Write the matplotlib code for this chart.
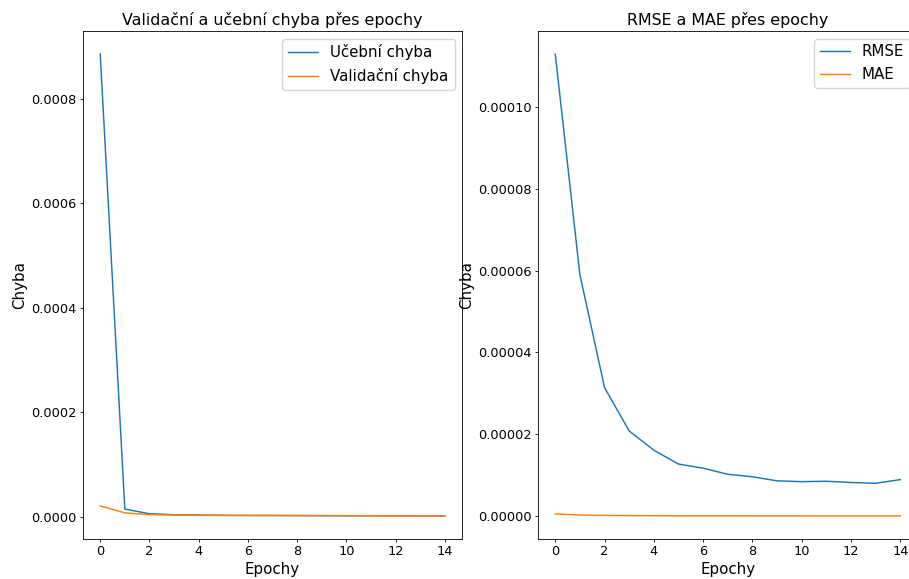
import matplotlib
matplotlib.use("Agg")
import matplotlib.pyplot as plt

epochs = list(range(15))
train_loss = [0.000886, 1.5e-5, 6e-6, 4.2e-6, 3.6e-6, 3.0e-6, 2.8e-6, 2.7e-6, 2.6e-6, 2.4e-6, 2.3e-6, 2.2e-6, 2.1e-6, 2.0e-6, 2.0e-6]
val_loss = [2.1e-5, 7.7e-6, 4.2e-6, 3.6e-6, 3.0e-6, 2.8e-6, 2.7e-6, 2.6e-6, 2.5e-6, 2.3e-6, 2.2e-6, 2.1e-6, 2.0e-6, 2.0e-6, 1.9e-6]
rmse = [1.129e-4, 5.9e-5, 3.14e-5, 2.08e-5, 1.61e-5, 1.27e-5, 1.17e-5, 1.02e-5, 9.6e-6, 8.6e-6, 8.4e-6, 8.5e-6, 8.2e-6, 8.0e-6, 8.9e-6]
mae = [5e-7, 2.5e-7, 1.5e-7, 1.0e-7, 8e-8, 6e-8, 5e-8, 5e-8, 4e-8, 4e-8, 4e-8, 3e-8, 3e-8, 3e-8, 3e-8]

W, H = 909, 579
plt.rcParams.update({
    "xtick.major.size": 2.3, "ytick.major.size": 2.3,
    "xtick.major.pad": 2.3, "ytick.major.pad": 2.3,
    "xtick.major.width": 0.6, "ytick.major.width": 0.6,
    "axes.labelpad": 2.6, "axes.titlepad": 4.0,
    "axes.linewidth": 0.6, "lines.linewidth": 1.05,
    "legend.fontsize": 10.8,
})
fig = plt.figure(figsize=(W/100, H/100), dpi=100)

def ax_at(x0, x1, y0, y1):
    return fig.add_axes([x0/W, (H-y1)/H, (x1-x0)/W, (y1-y0)/H])

tick_fs = 9.3
txt_fs = 10.8
title_fs = 11.4
ax1 = ax_at(83, 462, 31, 539)
ax1.plot(epochs, train_loss, label="Učební chyba")
ax1.plot(epochs, val_loss, label="Validační chyba")
ax1.set_title("Validační a učební chyba přes epochy", fontsize=title_fs)
ax1.set_xlabel("Epochy", fontsize=txt_fs)
ax1.set_ylabel("Chyba", fontsize=txt_fs)
ax1.legend(loc="upper right")
ax1.tick_params(labelsize=tick_fs)
ax1.set_xticks([0, 2, 4, 6, 8, 10, 12, 14])

ax2 = ax_at(538, 917.5, 31, 539)
ax2.plot(epochs, rmse, label="RMSE")
ax2.plot(epochs, mae, label="MAE")
ax2.set_title("RMSE a MAE přes epochy", fontsize=title_fs)
ax2.set_xlabel("Epochy", fontsize=txt_fs)
ax2.set_ylabel("Chyba", fontsize=txt_fs)
ax2.legend(loc="upper right")
ax2.tick_params(labelsize=tick_fs)
ax2.set_xticks([0, 2, 4, 6, 8, 10, 12, 14])

fig.savefig("out.png", dpi=100)
